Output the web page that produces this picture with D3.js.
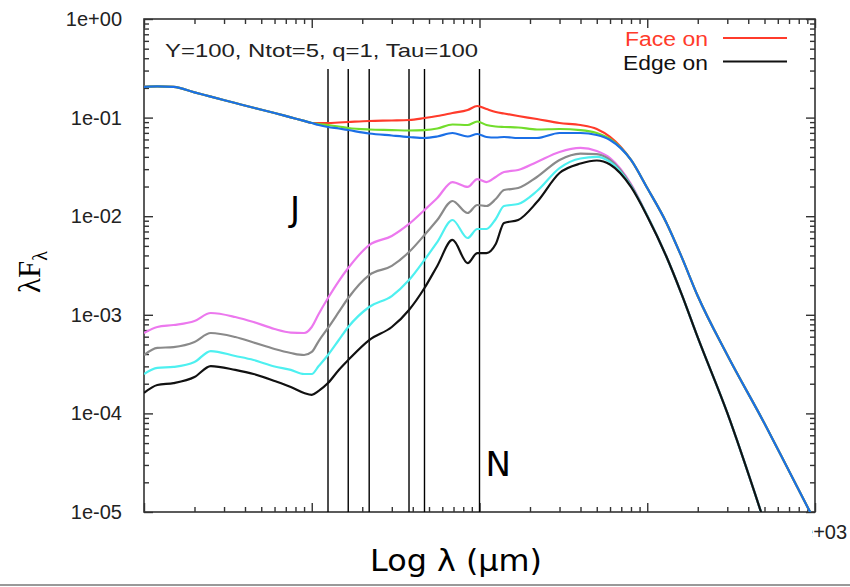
<!DOCTYPE html>
<html>
<head>
<meta charset="utf-8">
<script src="https://cdn.jsdelivr.net/npm/d3@7"></script>
<style>
body { margin: 0; background: #fff; }
svg { display: block; }
</style>
</head>
<body>
<svg id="sed_svg" width="850" height="587"></svg>
<script>
var wavelength = [0.1, 0.12, 0.15, 0.2, 0.25, 0.35, 0.45, 0.6, 0.75, 0.9, 1.0, 1.1, 1.25, 1.45, 1.65, 2.2, 3.0, 3.8, 4.7, 5.6,
                  6.9, 8.5, 9.7, 11, 12.5, 14, 17, 22, 30, 40, 50, 60, 80, 100, 130, 160, 200, 300, 500, 700, 1000]

var flux_red = [0.205, 0.207, 0.205, 0.1805, 0.1633, 0.1406, 0.1257, 0.1112, 0.1005, 0.0926, 0.0882, 0.088, 0.088, 0.0892, 0.0902, 0.0924, 0.0935, 0.0946, 0.0991, 0.1038,
                0.1113, 0.1194, 0.1311, 0.1221, 0.114, 0.110, 0.1038, 0.0968, 0.0882, 0.0841, 0.0766, 0.0636, 0.0372, 0.0193, 0.0086, 0.00389, 0.00155, 3.91e-4, 7.9e-5, 2.6e-5, 8.0e-6]
var flux_green = [0.205, 0.207, 0.205, 0.1805, 0.1633, 0.1406, 0.1257, 0.1112, 0.1005, 0.0926, 0.0882, 0.0861, 0.0841, 0.0812, 0.0784, 0.0757, 0.0748, 0.074, 0.0748, 0.0775,
                  0.0851, 0.0841, 0.0913, 0.0841, 0.0812, 0.0803, 0.0794, 0.0757, 0.0766, 0.0748, 0.0698, 0.0607, 0.0372, 0.0193, 0.0086, 0.00389, 0.00155, 3.91e-4, 7.9e-5, 2.6e-5, 8.0e-6]
var flux_blue = [0.205, 0.207, 0.205, 0.1805, 0.1633, 0.1406, 0.1257, 0.1112, 0.1005, 0.0926, 0.0882, 0.0841, 0.0803, 0.0775, 0.0748, 0.069, 0.0658, 0.0636, 0.0621, 0.0643,
                 0.0698, 0.0643, 0.0682, 0.0636, 0.0628, 0.0636, 0.0621, 0.0621, 0.0698, 0.0698, 0.0666, 0.0593, 0.0372, 0.0193, 0.0086, 0.00389, 0.00155, 3.91e-4, 7.9e-5, 2.6e-5, 8.0e-6]
var flux_magenta = [6.54e-4, 7.52e-4, 7.88e-4, 8.65e-4, 1.043e-3, 9.5e-4, 8.45e-4, 7.18e-4, 6.61e-4, 6.54e-4, 7.52e-4, 1.019e-3, 1.48e-3, 2.2e-3, 2.98e-3, 5.1e-3, 6.3e-3, 8.34e-3, 1.156e-2, 1.53e-2,
                    2.22e-2, 1.98e-2, 2.38e-2, 2.22e-2, 2.5e-2, 2.81e-2, 2.94e-2, 3.55e-2, 4.48e-2, 4.92e-2, 4.58e-2, 3.89e-2, 0.0212, 0.0101, 3.9e-3, 1.63e-3, 5.89e-4, 1.01e-4, 7.8e-6, null, null]
var flux_gray = [3.91e-4, 4.61e-4, 4.71e-4, 5.3e-4, 6.54e-4, 5.95e-4, 5.24e-4, 4.5e-4, 4.1e-4, 3.91e-4, 4.2e-4, 5.42e-4, 7.35e-4, 1.068e-3, 1.48e-3, 2.53e-3, 3.13e-3, 4.33e-3, 6.45e-3, 9.15e-3,
                 1.426e-2, 1.077e-2, 1.299e-2, 1.269e-2, 1.494e-2, 1.843e-2, 1.93e-2, 2.5e-2, 3.72e-2, 4.32e-2, 4.27e-2, 3.72e-2, 0.0207, 0.0101, 3.9e-3, 1.63e-3, 5.89e-4, 1.01e-4, 7.8e-6, null, null]
var flux_cyan = [2.51e-4, 2.89e-4, 2.96e-4, 3.32e-4, 4.29e-4, 3.82e-4, 3.48e-4, 2.99e-4, 2.76e-4, 2.51e-4, 2.51e-4, 3.02e-4, 3.91e-4, 5.55e-4, 7.52e-4, 1.2e-3, 1.55e-3, 2.25e-3, 3.6e-3, 5.47e-3,
                 9.15e-3, 6.01e-3, 7.42e-3, 7.42e-3, 9.37e-3, 1.27e-2, 1.33e-2, 1.8e-2, 3.08e-2, 3.85e-2, 3.99e-2, 3.55e-2, 0.0202, 0.0101, 3.9e-3, 1.63e-3, 5.89e-4, 1.01e-4, 7.8e-6, null, null]
var flux_black = [1.61e-4, 1.94e-4, 2.03e-4, 2.34e-4, 3.02e-4, 2.76e-4, 2.51e-4, 2.13e-4, 1.85e-4, 1.61e-4, 1.54e-4, 1.69e-4, 2.03e-4, 2.76e-4, 3.48e-4, 5.55e-4, 7.52e-4, 1.12e-3, 1.87e-3, 3.13e-3,
                  5.74e-3, 3.35e-3, 4.23e-3, 4.23e-3, 5.22e-3, 8.53e-3, 9.15e-3, 1.39e-2, 2.74e-2, 3.42e-2, 3.67e-2, 3.34e-2, 0.0198, 0.01, 3.9e-3, 1.63e-3, 5.89e-4, 1.01e-4, 7.8e-6, null, null]

var series_names  = ["red", "green", "blue", "magenta", "gray", "cyan", "black"]
var series_colors = ["#ff3b2b", "#72dd2c", "#1b6fe6", "#ec78ee", "#8a8a8a", "#4ef0f0", "#111111"]
var series_values = [flux_red, flux_green, flux_blue, flux_magenta, flux_gray, flux_cyan, flux_black]

var band_wavelengths = [1.25, 1.65, 2.2, 3.8, 4.7, 10]
var y_tick_values = [1, 0.1, 0.01, 1e-3, 1e-4, 1e-5]
var y_tick_labels = ["1e+00", "1e-01", "1e-02", "1e-03", "1e-04", "1e-05"]
var x_tick_label = "1e+03"
var legend_labels = ["Face on", "Edge on"]
var legend_colors = ["#ff3b2b", "#111111"]
var title_text = "Y=100, Ntot=5, q=1, Tau=100"

var plot_left = 144, plot_right = 815, plot_top = 19, plot_bottom = 512

var svg = d3.select("#sed_svg")

var x_scale = d3.scaleLog().domain([0.1, 1000]).range([plot_left, plot_right]),
    y_scale = d3.scaleLog().domain([1e-5, 1]).range([plot_bottom, plot_top])

var is_major = d=>Math.abs(Math.log10(d) - Math.round(Math.log10(d))) < 1e-6

svg.append("defs").append("clipPath").attr("id", "plot_clip")
   .append("rect")
   .attr("x", plot_left).attr("y", plot_top)
   .attr("width", plot_right - plot_left).attr("height", plot_bottom - plot_top)

// ticks on all four sides, pointing inward
function draw_axis (axis, tx, ty, attr, sign) {
	var g = svg.append("g")
	           .attr("transform", "translate(" + tx + "," + ty + ")")
	           .call(axis)
	g.select(".domain").remove()
	g.selectAll(".tick line")
	 .attr(attr, d=>(is_major(d) ? 9 : 5) * sign)
	 .attr("stroke", "#333")
	 .attr("stroke-width", 1.4)
	return g
}

var x_ticks = x_scale.ticks(),
    y_ticks = y_scale.ticks()

draw_axis(d3.axisBottom(x_scale).tickValues(x_ticks).tickFormat(""), 0, plot_bottom, "y2", -1)
draw_axis(d3.axisTop(x_scale).tickValues(x_ticks).tickFormat(""), 0, plot_top, "y2", 1)
draw_axis(d3.axisRight(y_scale).tickValues(y_ticks).tickFormat(""), plot_right, 0, "x2", -1)

var y_axis_g = draw_axis(d3.axisLeft(y_scale).tickValues(y_ticks).tickPadding(16)
                           .tickFormat(d=>{
                               var i = y_tick_values.findIndex(v=>Math.abs(Math.log10(v) - Math.log10(d)) < 1e-6)
                               return i >= 0 ? y_tick_labels[i] : ""
                           }), plot_left, 0, "x2", 1)
y_axis_g.selectAll(".tick text")
        .attr("font-family", "'Liberation Sans', Arial, sans-serif")
        .attr("font-size", 20)
        .attr("fill", "#222")

// frame
svg.append("rect")
   .attr("x", plot_left).attr("y", plot_top)
   .attr("width", plot_right - plot_left).attr("height", plot_bottom - plot_top)
   .attr("fill", "none")
   .attr("stroke", "#333")
   .attr("stroke-width", 1.6)

// band markers
svg.selectAll(".band-line")
   .data(band_wavelengths)
   .enter()
   .append("line")
   .attr("class", "band-line")
   .attr("x1", d=>x_scale(d)).attr("x2", d=>x_scale(d))
   .attr("y1", 69).attr("y2", plot_bottom)
   .attr("stroke", "#000")
   .attr("stroke-width", 1.4)

var line_gen = d3.line()
                 .defined(d=>d[1] != null)
                 .x(d=>x_scale(d[0]))
                 .y(d=>y_scale(d[1]))
                 .curve(d3.curveMonotoneX)

svg.append("g")
   .attr("clip-path", "url(#plot_clip)")
   .selectAll(".sed-line")
   .data(series_values)
   .enter()
   .append("path")
   .attr("class", (d, i)=>"sed-line sed-line-" + series_names[i])
   .attr("d", d=>line_gen(wavelength.map((w, i)=>[w, d[i]])))
   .attr("fill", "none")
   .attr("stroke", (d, i)=>series_colors[i])
   .attr("stroke-width", 2.2)
   .attr("stroke-linejoin", "round")

// title and legend
svg.append("text")
   .attr("x", 165).attr("y", 57)
   .attr("font-family", "'Liberation Sans', Arial, sans-serif")
   .attr("font-size", 19)
   .attr("fill", "#222")
   .attr("textLength", 313)
   .attr("lengthAdjust", "spacingAndGlyphs")
   .text(title_text)

legend_labels.forEach((label, i)=>{
	var ly = 38 + i * 23.5
	svg.append("text")
	   .attr("x", 708).attr("y", ly + 8)
	   .attr("text-anchor", "end")
	   .attr("font-family", "'Liberation Sans', Arial, sans-serif")
	   .attr("font-size", 20)
	   .attr("fill", legend_colors[i])
	   .attr("textLength", i == 0 ? 83 : 85)
	   .attr("lengthAdjust", "spacingAndGlyphs")
	   .text(label)
	svg.append("line")
	   .attr("x1", 723).attr("x2", 787)
	   .attr("y1", ly).attr("y2", ly)
	   .attr("stroke", legend_colors[i])
	   .attr("stroke-width", 2)
})

// band letters
svg.append("text")
   .attr("x", x_scale(band_wavelengths[0]) - 38).attr("y", 221)
   .attr("font-family", "'DejaVu Sans', sans-serif")
   .attr("font-size", 34)
   .attr("fill", "#000")
   .text("J")
svg.append("text")
   .attr("x", x_scale(band_wavelengths[5]) + 6).attr("y", 476)
   .attr("font-family", "'DejaVu Sans', sans-serif")
   .attr("font-size", 34)
   .attr("fill", "#000")
   .text("N")

// x tick label, mostly hidden like in the slide
svg.append("defs").append("clipPath").attr("id", "label_clip")
   .append("rect").attr("x", 812).attr("y", 515).attr("width", 40).attr("height", 30)
svg.append("text")
   .attr("x", x_scale(1000) + 4).attr("y", 539)
   .attr("text-anchor", "middle")
   .attr("clip-path", "url(#label_clip)")
   .attr("font-family", "'Liberation Sans', Arial, sans-serif")
   .attr("font-size", 20)
   .attr("fill", "#222")
   .text(x_tick_label)

// axis titles
svg.append("text")
   .attr("x", 370).attr("y", 571)
   .attr("font-family", "'DejaVu Sans', sans-serif")
   .attr("font-size", 30)
   .attr("fill", "#000")
   .attr("textLength", 172)
   .attr("lengthAdjust", "spacingAndGlyphs")
   .text("Log λ (μm)")

var y_label = svg.append("text")
                 .attr("transform", "translate(40,272) rotate(-90)")
                 .attr("text-anchor", "middle")
                 .attr("font-family", "'Liberation Serif', 'Times New Roman', serif")
                 .attr("font-size", 31)
                 .attr("fill", "#000")
y_label.append("tspan").text("λF")
y_label.append("tspan").attr("font-size", 20).attr("dy", 7).text("λ")

svg.append("line")
   .attr("x1", 0).attr("x2", 850)
   .attr("y1", 585).attr("y2", 585)
   .attr("stroke", "#999")
   .attr("stroke-width", 2)
</script>
</body>
</html>
